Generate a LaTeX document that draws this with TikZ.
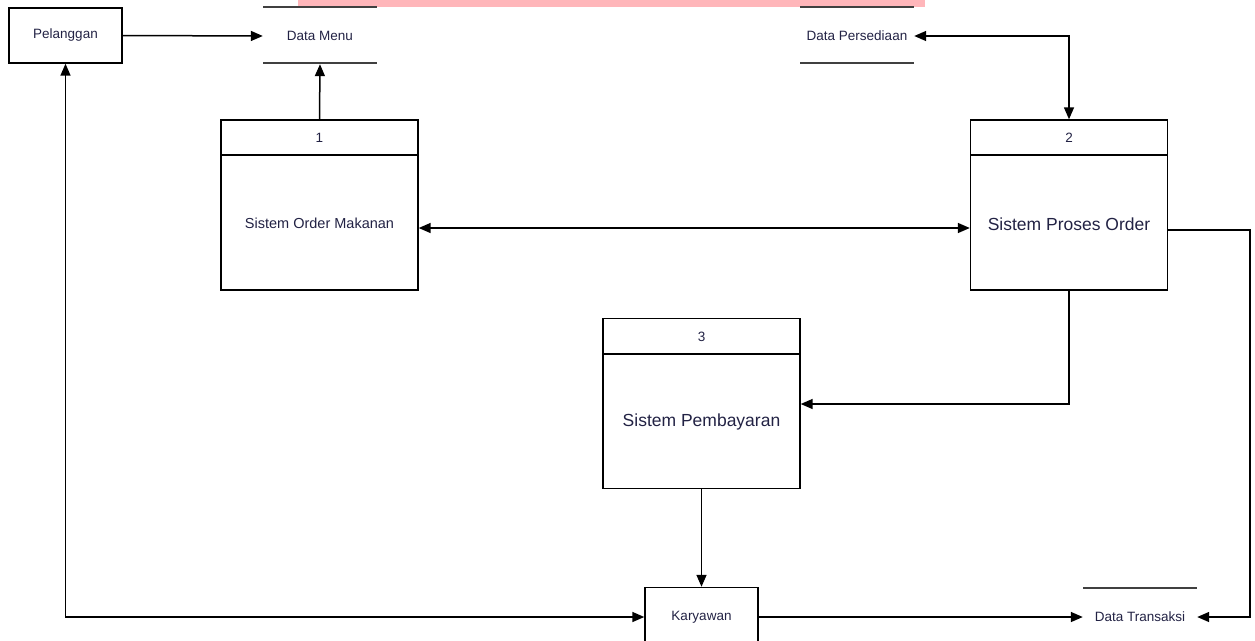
\documentclass[tikz,border=0pt]{standalone}
\usepackage{fontspec}
\setmainfont{Liberation Sans}
\usetikzlibrary{arrows.meta}
\definecolor{pinkbar}{HTML}{FFB6BA}
\definecolor{txt}{HTML}{222244}
\tikzset{
  x=1pt, y=-1pt,
  every node/.style={font=\fontsize{13.5}{15}\selectfont, text=txt},
  ent/.style={draw, line width=1.4pt, minimum width=113pt, minimum height=55pt, inner sep=0pt},
  proc/.style={draw, line width=1.4pt, minimum width=197pt, minimum height=170pt, inner sep=0pt},
  flow/.style={line width=1.5pt, -{Triangle[length=12pt,width=10pt]}},
  bflow/.style={line width=1.5pt, {Triangle[length=12pt,width=10pt]}-{Triangle[length=12pt,width=10pt]}},
  storeline/.style={line width=1.5pt, draw=black!75},
  small/.style={font=\fontsize{14.5}{17}\selectfont},
  big/.style={font=\fontsize{17.5}{20}\selectfont}
}
\begin{document}
\begin{tikzpicture}
\useasboundingbox (0,0) rectangle (1255,640);
\fill[pinkbar] (298,0) rectangle (925,7);

% external entities
\node[ent] (pel) at (65.5,35.5) {Pelanggan};
\node[ent, minimum height=58pt] (kar) at (701.5,616.5) {};
\node (kart) at (701.5,617) {Karyawan};

% data stores
\node (menu) at (320,36) [minimum width=114pt, minimum height=56pt, inner sep=0pt] {Data Menu};
\draw[storeline] (263,7) -- (377,7) (263,63) -- (377,63);
\node (pers) at (857,36) [minimum width=114pt, minimum height=56pt, inner sep=0pt] {Data Persediaan};
\draw[storeline] (800,7) -- (914,7) (800,63) -- (914,63);
\node (trans) at (1140,617) [minimum width=114pt, minimum height=56pt, inner sep=0pt] {Data Transaksi};
\draw[storeline] (1083,588) -- (1197,588);

% processes
\node[proc] (p1) at (319.5,205) {};
\draw[line width=1.4pt] (221,155) -- (418,155);
\node (p1n) at (319.5,137.5) {1};
\node[small] (p1t) at (319.5,223) {Sistem Order Makanan};

\node[proc] (p2) at (1069,205) {};
\draw[line width=1.4pt] (970,155) -- (1168,155);
\node (p2n) at (1069,137.5) {2};
\node[big] (p2t) at (1069,224) {Sistem Proses Order};

\node[proc] (p3) at (701.5,403.5) {};
\draw[line width=1.4pt] (603,354) -- (800,354);
\node (p3n) at (701.5,336.5) {3};
\node[big] (p3t) at (701.5,422) {Sistem Pembayaran};

% flows
\draw[flow] (pel.east) -- (menu.west);
\draw[flow] (p1.north) -- (menu.south);
\draw[bflow] (pers.east) -| (p2.north);
\draw[bflow] (p1.east |- 0,228) -- (p2.west |- 0,228);
\draw[flow] (p2.south) |- (p3.east |- 0,404);
\coordinate (c1) at (1250,230);
\draw[flow] (p2.east |- c1) -- (c1) |- (trans.east);
\draw[flow] (p3.south) -- (kar.north);
\draw[bflow] (pel.south) |- (kar.west |- trans.west);
\draw[flow] (kar.east |- trans.west) -- (trans.west);
\end{tikzpicture}
\end{document}
